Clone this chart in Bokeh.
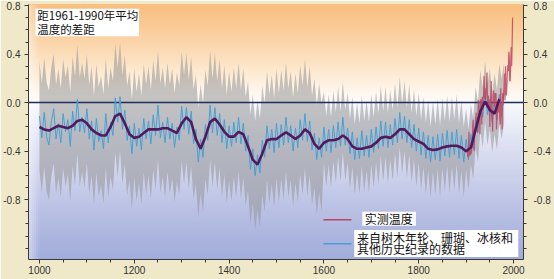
import numpy as np
from bokeh.plotting import figure
from bokeh.models import FixedTicker, PrintfTickFormatter, LinearAxis, Range1d
from bokeh.core.properties import value
from bokeh.embed import file_html
from bokeh.resources import INLINE

# ---------------- data ----------------
# proxy reconstruction (blue), every 5 years from 1000
proxy_values = [
    -0.11,-0.29,-0.08,-0.28,-0.35,-0.16,-0.05,-0.30,-0.17,-0.33,-0.09,-0.24,-0.14,-0.36,-0.07,-0.23,0.03,-0.24,-0.12,-0.25,
    -0.05,-0.30,-0.15,-0.39,-0.13,-0.32,-0.23,-0.38,-0.09,-0.33,-0.16,-0.27,0.04,-0.16,0.05,-0.22,-0.06,-0.31,-0.19,-0.42,
    -0.17,-0.36,-0.21,-0.39,-0.13,-0.30,-0.15,-0.34,-0.10,-0.27,-0.02,-0.29,-0.16,-0.33,-0.12,-0.30,-0.17,-0.37,-0.20,-0.31,
    -0.03,-0.22,-0.04,-0.26,-0.07,-0.34,-0.22,-0.49,-0.30,-0.45,-0.18,-0.31,-0.02,-0.25,-0.04,-0.27,-0.09,-0.33,-0.14,-0.38,
    -0.19,-0.36,-0.16,-0.33,-0.12,-0.34,-0.17,-0.40,-0.27,-0.55,-0.38,-0.60,-0.43,-0.58,-0.31,-0.45,-0.19,-0.38,-0.22,-0.41,
    -0.17,-0.37,-0.18,-0.35,-0.12,-0.33,-0.19,-0.40,-0.21,-0.37,-0.14,-0.31,-0.09,-0.32,-0.15,-0.39,-0.25,-0.47,-0.29,-0.45,
    -0.20,-0.40,-0.22,-0.41,-0.19,-0.37,-0.16,-0.36,-0.12,-0.35,-0.21,-0.42,-0.24,-0.47,-0.29,-0.46,-0.23,-0.44,-0.27,-0.45,
    -0.22,-0.41,-0.20,-0.38,-0.15,-0.36,-0.16,-0.37,-0.18,-0.35,-0.13,-0.33,-0.08,-0.30,-0.11,-0.33,-0.14,-0.37,-0.18,-0.40,
    -0.21,-0.43,-0.24,-0.46,-0.27,-0.49,-0.28,-0.47,-0.26,-0.48,-0.25,-0.44,-0.23,-0.45,-0.24,-0.43,-0.22,-0.46,-0.27,-0.49,
    -0.30,-0.47,-0.26,-0.38,-0.12,-0.24,0.02,-0.12,0.09,-0.10,0.03,-0.16,-0.01,-0.14,0.07,-0.05,0.08,
]
proxy_years = list(range(1000, 1000 + 5 * len(proxy_values), 5))

# smoothed curve (dark purple), every 10 years from 1000
smooth_values = [
    -0.20,-0.22,-0.23,-0.21,-0.19,-0.20,-0.21,-0.19,-0.15,-0.14,
    -0.17,-0.22,-0.25,-0.27,-0.27,-0.20,-0.11,-0.09,-0.17,-0.26,
    -0.29,-0.28,-0.25,-0.22,-0.22,-0.22,-0.21,-0.21,-0.23,-0.25,
    -0.17,-0.12,-0.16,-0.30,-0.38,-0.28,-0.16,-0.13,-0.18,-0.24,
    -0.28,-0.28,-0.24,-0.26,-0.36,-0.47,-0.51,-0.42,-0.31,-0.30,
    -0.30,-0.27,-0.245,-0.27,-0.30,-0.27,-0.22,-0.25,-0.34,-0.38,
    -0.33,-0.31,-0.31,-0.30,-0.27,-0.30,-0.36,-0.38,-0.38,-0.37,
    -0.36,-0.33,-0.29,-0.28,-0.29,-0.26,-0.22,-0.22,-0.26,-0.30,
    -0.32,-0.34,-0.38,-0.39,-0.385,-0.37,-0.36,-0.355,-0.355,-0.37,
    -0.40,-0.37,-0.22,-0.07,0.01,-0.06,-0.09,0.03,
]
smooth_years = list(range(1000, 1000 + 10 * len(smooth_values), 10))

# instrumental record (red), annual from 1902
instr_values = [
    -0.38,-0.42,-0.45,-0.33,-0.24,-0.44,-0.40,-0.43,-0.38,-0.42,-0.36,-0.35,-0.18,-0.14,-0.32,-0.40,-0.27,-0.22,
    -0.24,-0.08,-0.22,-0.18,-0.25,-0.08,0.02,-0.08,-0.06,-0.26,
    0.00,0.03,-0.02,-0.18,0.05,-0.06,0.00,0.10,0.22,0.04,
    0.12,0.02,0.06,0.14,0.25,0.04,-0.04,0.06,0.00,-0.05,
    -0.20,0.00,0.06,0.18,-0.10,-0.14,-0.24,0.05,0.10,0.03,
    -0.03,0.08,0.04,0.08,-0.22,-0.13,-0.06,-0.02,-0.08,0.04,
    -0.02,-0.14,-0.18,0.12,-0.12,-0.03,-0.22,0.08,-0.02,0.07,
    0.12,0.24,0.02,0.30,0.08,0.06,0.14,0.26,0.31,0.26,
    0.42,0.38,0.18,0.18,0.32,0.46,0.30,0.48,0.70,
]
instr_years = list(range(1902, 1902 + len(instr_values)))

# half-width of the grey uncertainty range, by period start
uncert_from = [1000, 1600, 1900]
uncert_halfwidth = [0.45, 0.29, 0.25]

y_major = [-0.8, -0.4, 0.0, 0.4, 0.8]
y_minor = [round(-1.2 + 0.1 * i, 1) for i in range(21)]
x_major = [1000, 1200, 1400, 1600, 1800, 2000]
x_minor = list(range(1000, 2001, 50))

title_lines = ["距1961-1990年平均", "温度的差距"]
legend_instr = "实测温度"
legend_proxy = ["来自树木年轮、珊瑚、冰核和", "其他历史纪录的数据"]

# ---------------- figure ----------------
X0, X1 = 976.9, 2021.0
Y0, Y1 = -1.293, 0.81

p = figure(width=554, height=279, x_range=Range1d(X0, X1), y_range=Range1d(Y0, Y1),
           output_backend="svg", toolbar_location=None,
           min_border_left=26, min_border_right=31, min_border_top=4, min_border_bottom=20)
p.border_fill_color = "#f0e9c9"
p.background_fill_color = "#a0acda"
p.outline_line_color = None
p.grid.visible = False

# background vertical gradient: each strip runs from its bottom edge to the top,
# later strips cover earlier ones, so no seams show
stops_v = [-1.30, -0.9, -0.6, -0.3, -0.05, 0.05, 0.2, 0.4, 0.6, 0.82]
stops_c = [(160, 172, 218), (185, 192, 228), (205, 210, 236), (225, 228, 244), (245, 246, 252),
           (255, 250, 245), (254, 238, 218), (252, 222, 185), (250, 205, 155), (248, 190, 125)]
edges = np.linspace(Y0, Y1, 91)
mids = (edges[:-1] + edges[1:]) / 2
cols = []
for m in mids:
    r = int(np.interp(m, stops_v, [c[0] for c in stops_c]))
    g = int(np.interp(m, stops_v, [c[1] for c in stops_c]))
    b = int(np.interp(m, stops_v, [c[2] for c in stops_c]))
    cols.append("#%02x%02x%02x" % (r, g, b))
p.hstrip(y0=list(edges[:-1]), y1=[Y1 + 0.05] * len(cols), fill_color=cols, line_color=None)

# light fade at the left edge
fx = np.linspace(X0, 1001, 7)
p.quad(left=list(fx[:-1]), right=list(fx[1:]), bottom=Y0, top=Y1, fill_color="white",
       fill_alpha=[0.45, 0.38, 0.3, 0.22, 0.12, 0.05], line_color=None)

# grey uncertainty band
hw = []
for yr in proxy_years:
    k = max(i for i, s in enumerate(uncert_from) if s <= yr)
    hw.append(uncert_halfwidth[k])
pv = np.array(proxy_values)
hwa = np.array(hw)
p.varea(x=proxy_years, y1=list(pv - hwa), y2=list(pv + hwa), fill_color="#969696", fill_alpha=0.55)

# zero line
p.hspan(y=[0.0], line_color="#1c2f5e", line_width=1.5)

# series
p.line(proxy_years, proxy_values, line_color="#46a0d7", line_width=1)
p.line(instr_years, instr_values, line_color="#bd4560", line_width=1.2, line_alpha=0.85)
p.line(smooth_years, smooth_values, line_color="#521a5c", line_width=2.6)

# axes
fmt = PrintfTickFormatter(format="%.1f")
yt = FixedTicker(ticks=y_major, minor_ticks=y_minor)
xt = FixedTicker(ticks=x_major, minor_ticks=x_minor)

def style(ax):
    ax.axis_line_color = "#3a3a3a"
    ax.major_tick_line_color = "#3a3a3a"
    ax.minor_tick_line_color = "#3a3a3a"
    ax.major_tick_in = 0
    ax.major_tick_out = 4
    ax.minor_tick_in = 0
    ax.minor_tick_out = 3
    ax.major_label_text_font = "Liberation Sans"
    ax.major_label_text_font_size = "10px"
    ax.major_label_text_color = "#333333"

p.yaxis.ticker = yt
p.yaxis.formatter = fmt
p.yaxis.major_label_standoff = 4
style(p.yaxis[0])

ra = LinearAxis(ticker=yt, formatter=fmt)
style(ra)
ra.major_label_standoff = 6
p.add_layout(ra, "right")

p.xaxis.ticker = xt
p.xaxis.major_label_standoff = 2
style(p.xaxis[0])

# title box
CJK = value("Noto Sans CJK SC")
p.quad(left=[991.6], right=[1210], top=[0.775], bottom=[0.548], fill_color="white", line_color=None)
p.text(x=[995.5, 995.5], y=[0.72, 0.605], text=title_lines, text_font=CJK,
       text_font_size="11.5px", text_baseline="middle", text_align="left", text_color="#111111")

# legend
p.segment(x0=[1599, 1599], y0=[-0.965, -1.163], x1=[1658, 1658], y1=[-0.965, -1.163],
          line_color=["#bd4560", "#46a0d7"], line_width=1.5)
p.quad(left=[1681, 1664], right=[1794, 2010], top=[-0.899, -1.050], bottom=[-1.014, -1.272],
       fill_color="white", line_color=None)
p.text(x=[1686], y=[-0.957], text=[legend_instr], text_font=CJK,
       text_font_size="12px", text_baseline="middle", text_align="left", text_color="#111111")
p.text(x=[1670, 1670], y=[-1.112, -1.202], text=legend_proxy, text_font=CJK,
       text_font_size="12px", text_baseline="middle", text_align="left", text_color="#111111")

open("out.html", "w").write(file_html(p, INLINE))
